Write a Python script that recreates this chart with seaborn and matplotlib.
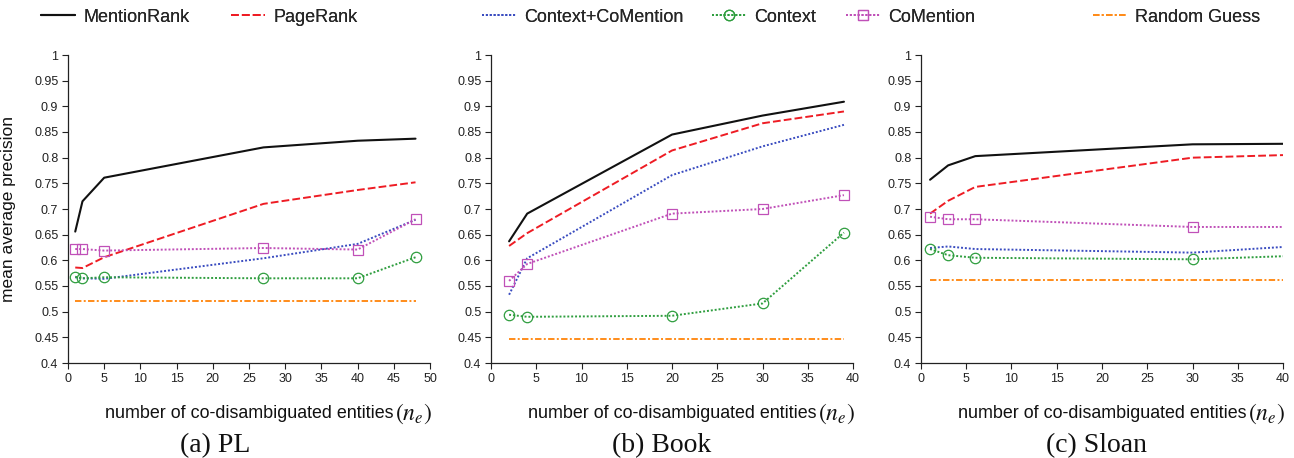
import pandas as pd
import matplotlib.pyplot as plt
import seaborn as sns

sns.set_style("ticks")
plt.rcParams['font.family'] = ['Liberation Sans', 'DejaVu Sans']
plt.rcParams['mathtext.fontset'] = 'stix'

# data
panels = ["(a) PL", "(b) Book", "(c) Sloan"]
xmax = [50, 40, 40]

pl_x = [1, 2, 5, 27, 40, 48]
pl_mention = [0.656, 0.715, 0.761, 0.820, 0.833, 0.837]
pl_page = [0.586, 0.585, 0.606, 0.710, 0.737, 0.752]
pl_ctxcom = [0.567, 0.565, 0.564, 0.604, 0.632, 0.679]
pl_ctx = [0.568, 0.565, 0.567, 0.565, 0.565, 0.606]
pl_com = [0.622, 0.622, 0.619, 0.624, 0.621, 0.680]
pl_rand = 0.520

book_x = [2, 4, 20, 30, 39]
book_mention = [0.637, 0.691, 0.845, 0.882, 0.909]
book_page = [0.628, 0.653, 0.814, 0.867, 0.890]
book_ctxcom = [0.533, 0.604, 0.766, 0.822, 0.864]
book_ctx = [0.494, 0.490, 0.492, 0.516, 0.654]
book_com = [0.560, 0.593, 0.691, 0.700, 0.727]
book_rand = 0.447

sloan_x = [1, 3, 6, 30, 40]
sloan_mention = [0.757, 0.785, 0.803, 0.826, 0.827]
sloan_page = [0.691, 0.716, 0.743, 0.800, 0.805]
sloan_ctxcom = [0.624, 0.627, 0.622, 0.615, 0.626]
sloan_ctx = [0.622, 0.610, 0.605, 0.602, 0.608]
sloan_com = [0.685, 0.680, 0.680, 0.665, 0.665]
sloan_rand = 0.562

data = [
    (pl_x, pl_mention, pl_page, pl_ctxcom, pl_ctx, pl_com, pl_rand),
    (book_x, book_mention, book_page, book_ctxcom, book_ctx, book_com, book_rand),
    (sloan_x, sloan_mention, sloan_page, sloan_ctxcom, sloan_ctx, sloan_com, sloan_rand),
]
markevery = [None, None, [0, 1, 2, 3]]

yticks = [0.4, 0.45, 0.5, 0.55, 0.6, 0.65, 0.7, 0.75, 0.8, 0.85, 0.9, 0.95, 1.0]

styles = {
    "MentionRank": dict(color="#111111", lw=1.5, linestyle="-"),
    "PageRank": dict(color="#ee1c24", lw=1.4, linestyle=(0, (4, 1.6))),
    "Context+CoMention": dict(color="#3a4cc0", lw=1.4, linestyle=(0, (1, 1))),
    "Context": dict(color="#2f9e3f", lw=1.4, linestyle=(0, (1, 1)), marker="o",
                    markersize=7.5, markerfacecolor="none", markeredgecolor="#2f9e3f",
                    markeredgewidth=0.9),
    "CoMention": dict(color="#c050b8", lw=1.4, linestyle=(0, (1, 1)), marker="s",
                      markersize=6.5, markerfacecolor="none", markeredgecolor="#c050b8",
                      markeredgewidth=0.9),
    "Random Guess": dict(color="#ff8c1a", lw=1.4, linestyle=(0, (3.3, 1.2, 1, 1.2))),
}
names = list(styles.keys())

fig = plt.figure(figsize=(12.94, 4.58), dpi=100)
lefts = [68, 491, 921]
caption_x = [215, 662, 1097]
axes = []
for i in range(3):
    ax = fig.add_axes([lefts[i] / 1294, 1 - 363 / 458, 362 / 1294, 308 / 458])
    axes.append(ax)
    x, mr, pr, cc, cx, cm, rg = data[i]
    ys = [mr, pr, cc, cx, cm, [rg] * len(x)]
    for name, y in zip(names, ys):
        df = pd.DataFrame({"x": x, "y": y})
        kw = dict(styles[name])
        if "marker" in kw and markevery[i] is not None:
            kw["markevery"] = markevery[i]
        sns.lineplot(data=df, x="x", y="y", ax=ax, label=name, errorbar=None, **kw)
    if ax.legend_ is not None:
        ax.legend_.remove()
    ax.set_xlim(0, xmax[i])
    ax.set_ylim(0.4, 1.0)
    ax.set_xticks(list(range(0, xmax[i] + 1, 5)))
    ax.set_yticks(yticks)
    ax.set_yticklabels([f"{v:g}" for v in yticks])
    ax.tick_params(labelsize=9, colors="#222222", length=4, width=0.8, pad=3)
    sns.despine(ax=ax)
    for s in ["left", "bottom"]:
        ax.spines[s].set_color("#222222")
        ax.spines[s].set_linewidth(0.9)
    ax.set_xlabel("number of co-disambiguated entities", fontsize=12.9, color="#111111")
    ax.xaxis.set_label_coords(0.5, -0.135)
    ax.annotate(r"$(n_e)$", xy=(1, 0.45), xycoords=ax.xaxis.label, xytext=(1.5, 0),
                textcoords="offset points", ha="left", va="center",
                fontsize=17, color="#111111")
    ax.set_ylabel("")
    fig.text(caption_x[i] / 1294, 1 - 446 / 458, panels[i], ha="center", va="center",
             fontsize=20, family="Liberation Serif", color="#111111")

axes[0].set_ylabel("mean average precision", fontsize=12.5, color="#111111")
axes[0].yaxis.set_label_coords(-52 / 362, 0.5)

handles, labels = axes[0].get_legend_handles_labels()
leg_x = [41, 231, 482, 712, 846, 1093]
for h, l, lx in zip(handles, labels, leg_x):
    lg = fig.legend([h], [l], loc="center left", bbox_to_anchor=(lx / 1294, 1 - 17 / 458),
                    frameon=False, borderpad=0, borderaxespad=0, fontsize=13,
                    handlelength=1.9, handletextpad=0.45)
    fig.add_artist(lg)

plt.savefig("out.png", dpi=100)
